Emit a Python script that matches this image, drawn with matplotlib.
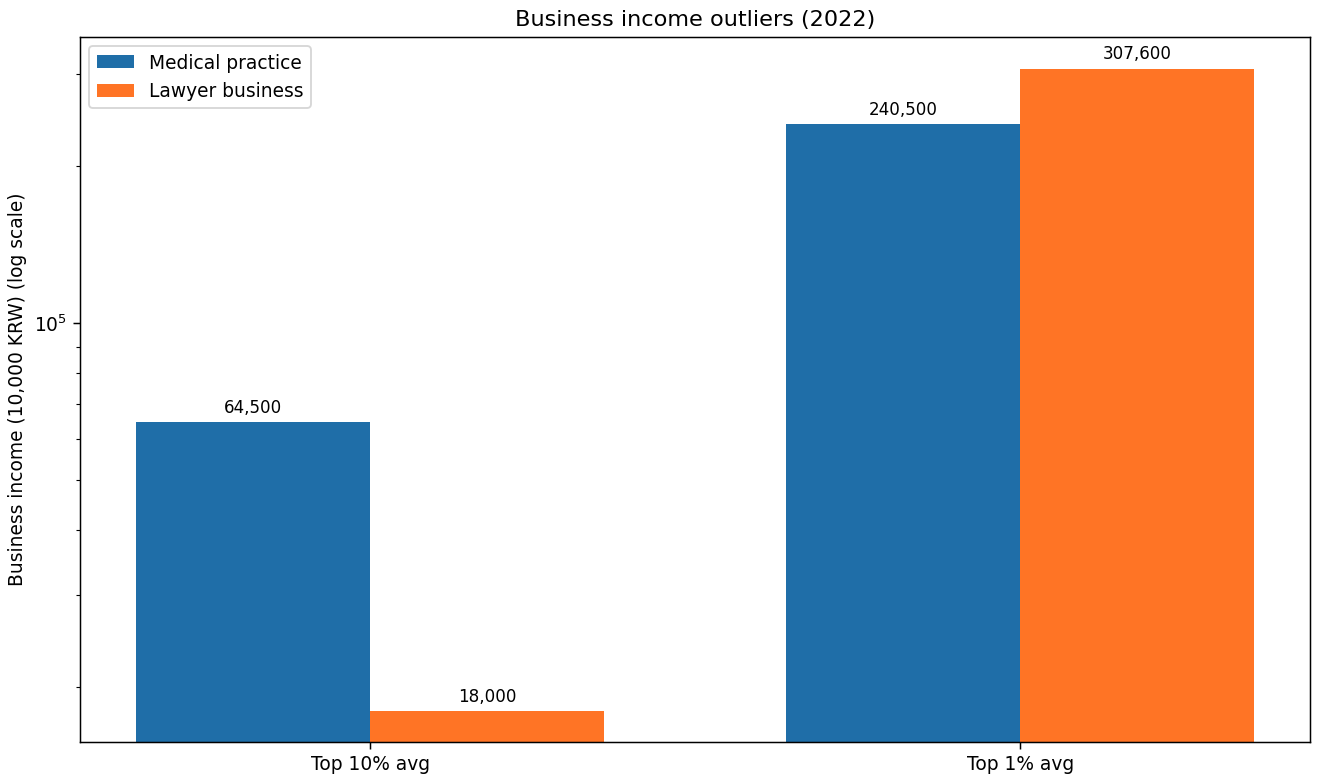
import matplotlib
matplotlib.use("Agg")
import matplotlib.pyplot as plt
import numpy as np

categories = ["Top 10% avg", "Top 1% avg"]
medical = [64500, 240500]
lawyer = [18000, 307600]
series_names = ["Medical practice", "Lawyer business"]

DPI = 134
fig, ax = plt.subplots(figsize=(1319.3 / DPI, 779.3 / DPI), dpi=DPI)
fig.subplots_adjust(left=0.0607, right=0.9932, top=0.9525, bottom=0.0475)

x = np.arange(len(categories))
w = 0.36
b1 = ax.bar(x - w / 2, medical, w, label=series_names[0], color="#1f6ea8")
b2 = ax.bar(x + w / 2, lawyer, w, label=series_names[1], color="#ff7425")
ax.set_yscale("log")
ax.set_ylim(15690, 354300)
ax.set_xticks(x)
ax.set_xticklabels(categories)
for bars in (b1, b2):
    ax.bar_label(bars, labels=[f"{v:,.0f}" for v in bars.datavalues], padding=3, fontsize=9)
ax.set_ylabel("Business income (10,000 KRW) (log scale)")
ax.set_title("Business income outliers (2022)")
ax.legend(loc="upper left")
fig.savefig("out.png", dpi=DPI)
